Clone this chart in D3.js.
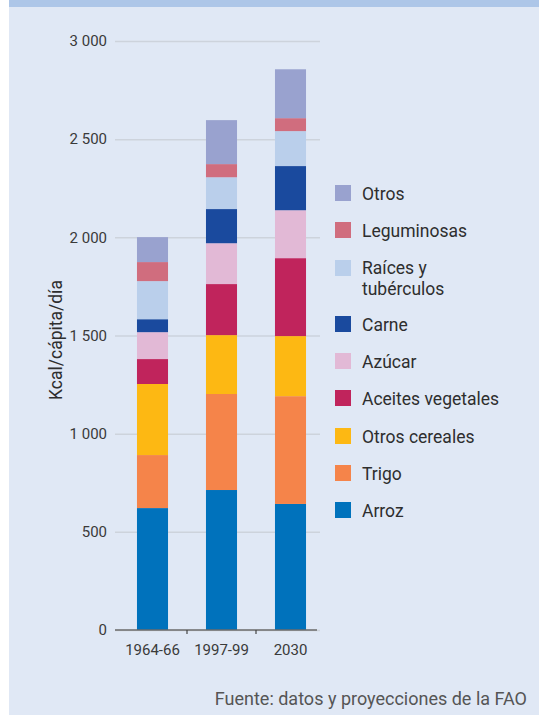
<!DOCTYPE html>
<html>
<head>
<meta charset="utf-8">
<script src="https://cdn.jsdelivr.net/npm/d3@7"></script>
<style>
  body { margin: 0; background: #fff; }
  #chart { width: 539px; height: 715px; }
  text { font-family: Roboto, "DejaVu Sans", sans-serif; }
</style>
</head>
<body>
<div id="chart"></div>
<script>
// ---------------------------//
//       DATA                 //
// ---------------------------//
var periods = ["1964-66", "1997-99", "2030"];
var groups = ["Arroz", "Trigo", "Otros cereales", "Aceites vegetales", "Azúcar",
  "Carne", "Raíces y tubérculos", "Leguminosas", "Otros"];

// kcal per capita per day, one array per group, in periods order
var arroz = [621, 713, 642];
var trigo = [270, 489, 549];
var otrosCereales = [362, 300, 306];
var aceites = [127, 260, 397];
var azucar = [137, 208, 244];
var carne = [66, 174, 225];
var raices = [194, 162, 178];
var leguminosas = [97, 67, 66];
var otros = [127, 224, 249];

var yTicks = [0, 500, 1000, 1500, 2000, 2500, 3000];
var colors = ["#0072bc", "#f5844a", "#fdb813", "#c0245c", "#e2b9d6",
  "#1a4a9e", "#bacfeb", "#d06d7e", "#99a2cf"];

var series = [arroz, trigo, otrosCereales, aceites, azucar, carne, raices, leguminosas, otros];
var data = periods.map(function(p, i) {
  var row = { period: p };
  groups.forEach(function(g, j) { row[g] = series[j][i]; });
  return row;
});

var W = 539, H = 715;
var svg = d3.select("#chart").append("svg")
  .attr("width", W)
  .attr("height", H);

// background panel
svg.append("rect").attr("x", 9).attr("y", 0).attr("width", W - 9).attr("height", H).attr("fill", "#e0e8f5");
svg.append("rect").attr("x", 9).attr("y", 0).attr("width", W - 9).attr("height", 7).attr("fill", "#adc6e8");

// ---------------------------//
//       AXIS  AND SCALE      //
// ---------------------------//
var x = d3.scaleBand()
  .domain(periods)
  .range([118, 325])
  .paddingInner(0.55)
  .paddingOuter(0.275);

var y = d3.scaleLinear()
  .domain([0, 3000])
  .range([630, 41]);

var color = d3.scaleOrdinal().domain(groups).range(colors);

// grid + y labels
var gY = svg.append("g")
  .attr("transform", "translate(115,0)")
  .call(d3.axisLeft(y)
    .tickValues(yTicks)
    .tickSize(-205)
    .tickPadding(8)
    .tickFormat(function(d) { return d3.format(",")(d).replace(",", " "); }));
gY.select(".domain").remove();
gY.selectAll(".tick line").attr("stroke", "#cdd3dc").attr("stroke-width", 1.5);
gY.selectAll(".tick text")
  .attr("fill", "#3a3a3a")
  .style("font-size", "15px");

// y title
svg.append("text")
  .attr("transform", "translate(62,340) rotate(-90)")
  .attr("text-anchor", "middle")
  .attr("fill", "#2e2e2e")
  .style("font-size", "17.5px")
  .text("Kcal/cápita/día");

// ---------------------------//
//       BARS                 //
// ---------------------------//
var stacked = d3.stack().keys(groups)(data);

svg.append("g")
  .selectAll("g")
  .data(stacked)
  .enter()
  .append("g")
  .attr("fill", function(d) { return color(d.key); })
  .selectAll("rect")
  .data(function(d) { return d; })
  .enter()
  .append("rect")
  .attr("x", function(d) { return x(d.data.period); })
  .attr("y", function(d) { return y(d[1]); })
  .attr("height", function(d) { return y(d[0]) - y(d[1]); })
  .attr("width", x.bandwidth());

// x axis line, ticks between bars, labels
var step = x.step();
svg.append("line")
  .attr("x1", 115).attr("x2", 317)
  .attr("y1", y(0)).attr("y2", y(0))
  .attr("stroke", "#6b6b6b").attr("stroke-width", 1.5);

svg.selectAll(".sep")
  .data(periods.slice(0, -1))
  .enter()
  .append("line")
  .attr("x1", function(d) { return x(d) + x.bandwidth() + (step - x.bandwidth()) / 2; })
  .attr("x2", function(d) { return x(d) + x.bandwidth() + (step - x.bandwidth()) / 2; })
  .attr("y1", y(0)).attr("y2", y(0) + 4)
  .attr("stroke", "#444").attr("stroke-width", 1.2);

svg.selectAll(".xlab")
  .data(periods)
  .enter()
  .append("text")
  .attr("x", function(d) { return x(d) + x.bandwidth() / 2; })
  .attr("y", 655)
  .attr("text-anchor", "middle")
  .attr("fill", "#3a3a3a")
  .style("font-size", "15px")
  .text(function(d) { return d; });

// ---------------------------//
//       LEGEND               //
// ---------------------------//
var legendItems = groups.slice().reverse();
var legendY = [185, 222, 260, 316, 353, 390, 428, 465, 502];

var leg = svg.selectAll(".leg")
  .data(legendItems)
  .enter()
  .append("g")
  .attr("transform", function(d, i) { return "translate(335," + legendY[i] + ")"; });

leg.append("rect")
  .attr("width", 16).attr("height", 16)
  .attr("fill", function(d) { return color(d); });

// long label wraps onto two lines, each its own text
leg.each(function(d) {
  var lines = d === "Raíces y tubérculos" ? ["Raíces y", "tubérculos"] : [d];
  var g = d3.select(this);
  lines.forEach(function(l, k) {
    g.append("text")
      .attr("x", 27)
      .attr("y", lines.length > 1 ? 14 + k * 21 : 15)
      .attr("fill", "#2e2e2e")
      .style("font-size", "17.5px")
      .text(l);
  });
});

// source
svg.append("text")
  .attr("x", 527)
  .attr("y", 705)
  .attr("text-anchor", "end")
  .attr("fill", "#555")
  .style("font-size", "18px")
  .text("Fuente: datos y proyecciones de la FAO");
</script>
</body>
</html>
